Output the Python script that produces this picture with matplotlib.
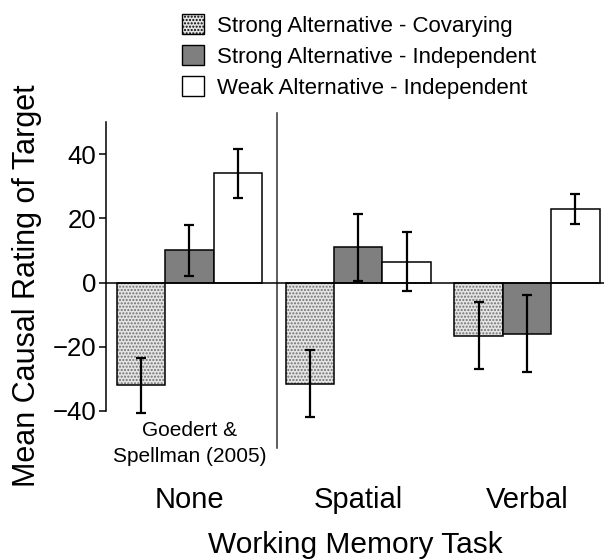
import matplotlib
matplotlib.use("Agg")
import matplotlib.pyplot as plt
from matplotlib.patches import Patch
import numpy as np

plt.rcParams['font.family'] = ['Liberation Sans', 'DejaVu Sans']

# values
tasks = ['None', 'Spatial', 'Verbal']
conditions = ['Strong Alternative - Covarying',
              'Strong Alternative - Independent',
              'Weak Alternative - Independent']
cov_mean = [-32, -31.5, -16.5]
ind_mean = [10, 11, -16]
weak_mean = [34, 6.5, 23]
cov_err = [8.6, 10.4, 10.3]
ind_err = [8, 10.5, 12]
weak_err = [7.6, 9.1, 4.7]

fig = plt.figure(figsize=(6.04, 5.60), dpi=100)
ax = fig.add_axes([106/604, 149/560, 498/604, 289/560])

x = np.arange(len(tasks))
w = 0.287
ekw = dict(fmt='none', ecolor='black', elinewidth=1.6, capsize=3.6, capthick=1.6,
           zorder=5, clip_on=False)

# stippled bars: hatch layer then outline
ax.bar(x - w, cov_mean, w, color='#e4e4e4', edgecolor='#707070', hatch='.....', linewidth=0, zorder=2)
ax.bar(x - w, cov_mean, w, fill=False, edgecolor='black', linewidth=1.1, zorder=3)
ax.bar(x, ind_mean, w, color='#7f7f7f', edgecolor='black', linewidth=1.1, zorder=3)
ax.bar(x + w, weak_mean, w, color='white', edgecolor='black', linewidth=1.1, zorder=3)

ax.errorbar(x - w, cov_mean, yerr=cov_err, **ekw)
ax.errorbar(x, ind_mean, yerr=ind_err, **ekw)
ax.errorbar(x + w, weak_mean, yerr=weak_err, **ekw)

ax.axhline(0, color='black', linewidth=1.1, zorder=4)

# divider between previous study and new data
trans = ax.get_xaxis_transform()
ax.plot([0.518, 0.518], [-0.128, 1.031], color='#333333', linewidth=1.1,
        transform=trans, clip_on=False)

ax.text(0, -0.035, 'Goedert &\nSpellman (2005)', transform=trans, ha='center', va='top',
        fontsize=15, linespacing=1.45, clip_on=False)

ax.set_xlim(-0.494, 2.456)
ax.set_ylim(-40, 50)
ax.set_yticks([-40, -20, 0, 20, 40])
ax.tick_params(axis='y', labelsize=18.5, length=5, width=1.1, direction='out', pad=2)
ax.set_xticks(x)
ax.set_xticklabels(tasks, fontsize=21)
ax.tick_params(axis='x', length=0, pad=54)

for s in ['top', 'right', 'bottom']:
    ax.spines[s].set_visible(False)
ax.spines['left'].set_linewidth(1.1)

ax.set_xlabel('Working Memory Task', fontsize=21.5, labelpad=12)
ax.set_ylabel('Mean Causal Rating of Target', fontsize=22)
ax.yaxis.set_label_coords(-0.1285, 0.432)

handles = [Patch(facecolor='#e4e4e4', edgecolor='black', hatch='.....', linewidth=1.0),
           Patch(facecolor='#7f7f7f', edgecolor='black', linewidth=1.0),
           Patch(facecolor='white', edgecolor='black', linewidth=1.0)]
fig.legend(handles, conditions, loc='upper left', bbox_to_anchor=(0.302, 0.975),
           frameon=False, fontsize=16, handlelength=0.95, handleheight=1.0,
           handletextpad=0.6, labelspacing=0.38, borderpad=0, borderaxespad=0)

fig.savefig('out.png', dpi=100)
